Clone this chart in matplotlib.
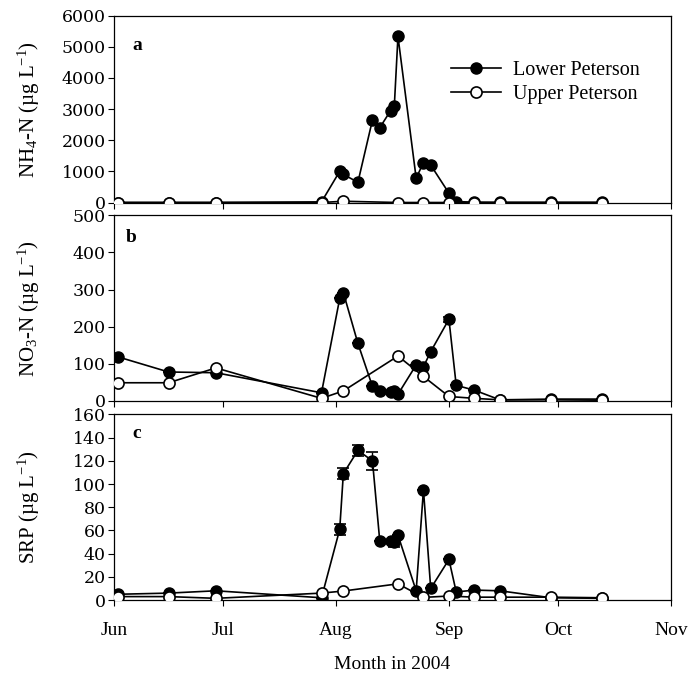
import matplotlib
matplotlib.use("Agg")
import matplotlib.pyplot as plt
import matplotlib.dates as mdates
import numpy as np
import datetime as dt

plt.rcParams['font.family'] = ['Liberation Serif', 'DejaVu Serif']
plt.rcParams['mathtext.fontset'] = 'custom'
plt.rcParams['mathtext.rm'] = 'Liberation Serif'
plt.rcParams['mathtext.it'] = 'Liberation Serif:italic'
plt.rcParams['mathtext.bf'] = 'Liberation Serif:bold'

# sampling dates
lower_dates = ["2004-06-02", "2004-06-16", "2004-06-29", "2004-07-28", "2004-08-02",
               "2004-08-03", "2004-08-07", "2004-08-11", "2004-08-13", "2004-08-16",
               "2004-08-17", "2004-08-18", "2004-08-23", "2004-08-25", "2004-08-27",
               "2004-09-01", "2004-09-03", "2004-09-08", "2004-09-15", "2004-09-29",
               "2004-10-13"]
upper_dates = ["2004-06-02", "2004-06-16", "2004-06-29", "2004-07-28", "2004-08-03",
               "2004-08-18", "2004-08-25", "2004-09-01", "2004-09-08", "2004-09-15",
               "2004-09-29", "2004-10-13"]

# NH4-N (ug/L)
nh4_lower = [0, 0, 0, 20, 1000, 900, 650, 2650, 2400, 2950, 3100, 5330,
             780, 1280, 1200, 300, 30, 10, 5, 5, 5]
nh4_upper = [0, 0, 0, 0, 40, 0, 0, 0, 0, 0, 0, 0]

# NO3-N (ug/L)
no3_lower = [119, 78, 76, 22, 276, 292, 155, 39, 27, 25, 27, 18,
             97, 92, 133, 220, 42, 29, 3, 5, 5]
no3_lower_err = [0, 0, 0, 0, 0, 0, 0, 0, 0, 0, 0, 0,
                 0, 0, 0, 6, 0, 0, 0, 0, 0]
no3_upper = [49, 49, 89, 7, 27, 121, 66, 12, 7, 3, 3, 2]

# SRP (ug/L)
srp_lower = [5, 6, 8, 2, 61, 109, 129, 120, 51, 51, 50, 56,
             8, 95, 10, 35, 7, 8.6, 8, 2, 1.5]
srp_lower_err = [0, 0, 0, 0, 5, 5, 5, 8, 0, 0, 4, 0,
                 0, 0, 0, 0, 0, 0, 0, 0, 0]
srp_upper = [3, 3, 1.5, 6, 7.8, 14, 2.3, 3.5, 2.5, 2.5, 2.5, 2]

ld = np.array(lower_dates, dtype='datetime64[D]').astype('O')
ud = np.array(upper_dates, dtype='datetime64[D]').astype('O')

fig = plt.figure(figsize=(6.95, 6.75), dpi=100)
left, width = 0.164, 0.8015
ax_a = fig.add_axes([left, 0.7, width, 0.277])
ax_b = fig.add_axes([left, 0.406, width, 0.275])
ax_c = fig.add_axes([left, 0.111, width, 0.275])

# axes, lower, lower err, upper, letter, letter pos, ymax, step, label
panels = [
    (ax_a, nh4_lower, None, nh4_upper, 'a', (0.041, 0.84), 6000, 1000,
     r'NH$_4$-N (µg L$^{-1}$)'),
    (ax_b, no3_lower, no3_lower_err, no3_upper, 'b', (0.03, 0.88), 500, 100,
     r'NO$_3$-N (µg L$^{-1}$)'),
    (ax_c, srp_lower, srp_lower_err, srp_upper, 'c', (0.041, 0.9), 160, 20,
     r'SRP (µg L$^{-1}$)'),
]

xmin = dt.date(2004, 6, 1)
xmax = dt.date(2004, 11, 1)

for ax, low, low_err, up, letter, lpos, ymax, step, ylab in panels:
    if low_err is not None:
        ax.errorbar(ld, low, yerr=low_err, fmt='none', ecolor='black',
                    elinewidth=1.0, capsize=4, capthick=1.2, zorder=2)
    ax.plot(ld, low, '-o', color='black', mfc='black', mec='black',
            ms=8, lw=1.2, label='Lower Peterson', zorder=3)
    ax.plot(ud, up, '-o', color='black', mfc='white', mec='black',
            ms=8, mew=1.2, lw=1.2, label='Upper Peterson', zorder=4)
    ax.set_xlim(xmin, xmax)
    ax.set_ylim(0, ymax)
    ax.set_yticks(np.arange(0, ymax + 1, step))
    ax.xaxis.set_major_locator(mdates.MonthLocator())
    ax.xaxis.set_major_formatter(mdates.DateFormatter('%b'))
    ax.tick_params(direction='out', length=4, width=0.8, pad=2)
    ax.tick_params(axis='y', labelsize=12.5, labelfontfamily='DejaVu Serif')
    ax.set_ylabel(ylab, fontsize=15)
    ax.yaxis.set_label_coords(-0.13, 0.5)
    ax.text(lpos[0], lpos[1], letter, transform=ax.transAxes, fontsize=14,
            fontweight='bold', ha='center', va='center')
    for s in ax.spines.values():
        s.set_linewidth(0.9)
    if ax is not ax_c:
        ax.tick_params(labelbottom=False)

ax_c.tick_params(axis='x', pad=12, labelsize=14)
ax_c.set_xlabel('Month in 2004', fontsize=14, labelpad=12)

ax_a.legend(loc='upper left', bbox_to_anchor=(0.59, 0.8), frameon=False,
            fontsize=14.5, handlelength=2.5, handletextpad=0.6, labelspacing=0.25,
            borderaxespad=0)

fig.savefig('out.png', dpi=100)
